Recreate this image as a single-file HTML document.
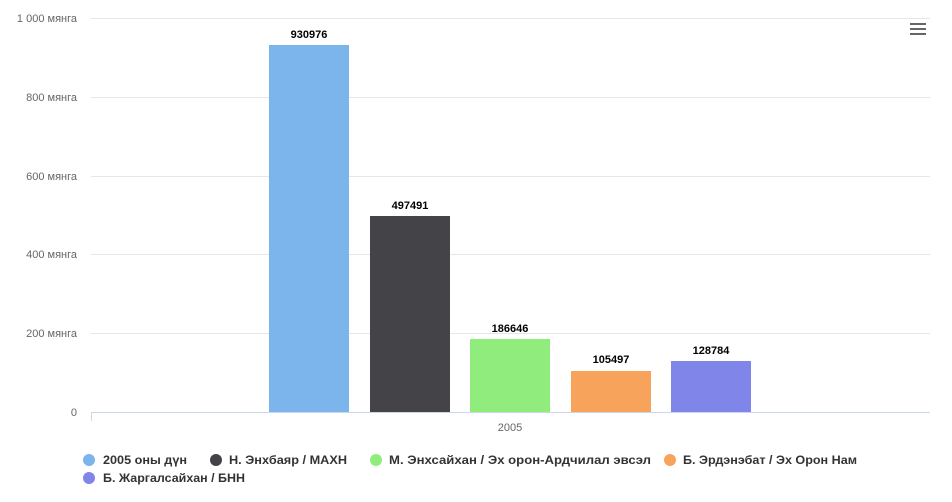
<!DOCTYPE html>
<html><head><meta charset="utf-8"><style>
html,body{margin:0;padding:0;background:#fff;width:952px;height:502px;overflow:hidden}
text{font-family:"Liberation Sans",sans-serif}
</style></head><body>
<svg width="952" height="502" xmlns="http://www.w3.org/2000/svg">
<g stroke="#e6e6e6" stroke-width="1">
<line x1="91" y1="18.5" x2="930" y2="18.5"/>
<line x1="91" y1="97.5" x2="930" y2="97.5"/>
<line x1="91" y1="176.5" x2="930" y2="176.5"/>
<line x1="91" y1="254.5" x2="930" y2="254.5"/>
<line x1="91" y1="333.5" x2="930" y2="333.5"/>
</g>
<g fill="#666" font-size="11" text-anchor="end">
<text x="77" y="22">1 000 мянга</text>
<text x="77" y="101">800 мянга</text>
<text x="77" y="180">600 мянга</text>
<text x="77" y="258">400 мянга</text>
<text x="77" y="337">200 мянга</text>
<text x="77" y="416">0</text>
</g>
<rect x="269" y="45" width="80" height="367" fill="#7cb5ec"/>
<rect x="370" y="216" width="80" height="196" fill="#434348"/>
<rect x="470" y="339" width="80" height="73" fill="#90ed7d"/>
<rect x="571" y="371" width="80" height="41" fill="#f7a35c"/>
<rect x="671" y="361" width="80" height="51" fill="#8085e9"/>
<g font-size="11" font-weight="bold" fill="#000" text-anchor="middle">
<text x="309" y="38">930976</text>
<text x="410" y="209">497491</text>
<text x="510" y="332">186646</text>
<text x="611" y="363">105497</text>
<text x="711" y="354">128784</text>
</g>
<line x1="91" y1="412.5" x2="930" y2="412.5" stroke="#ccd6eb"/>
<line x1="91.5" y1="412" x2="91.5" y2="421" stroke="#ccd6eb"/>
<text x="510" y="431" font-size="11" fill="#666" text-anchor="middle">2005</text>
<g fill="#666"><rect x="910" y="23" width="16" height="2"/><rect x="910" y="28" width="16" height="2"/><rect x="910" y="33" width="16" height="2"/></g>
<g font-size="12" font-weight="bold" fill="#333">
<circle cx="89" cy="460" r="6" fill="#7cb5ec"/><text x="103" y="464" textLength="84" lengthAdjust="spacingAndGlyphs">2005 оны дүн</text>
<circle cx="216" cy="460" r="6" fill="#434348"/><text x="229" y="464" textLength="118" lengthAdjust="spacingAndGlyphs">Н. Энхбаяр / МАХН</text>
<circle cx="376" cy="460" r="6" fill="#90ed7d"/><text x="389" y="464" textLength="262" lengthAdjust="spacingAndGlyphs">М. Энхсайхан / Эх орон-Ардчилал эвсэл</text>
<circle cx="670" cy="460" r="6" fill="#f7a35c"/><text x="683" y="464" textLength="174" lengthAdjust="spacingAndGlyphs">Б. Эрдэнэбат / Эх Орон Нам</text>
<circle cx="89" cy="478" r="6" fill="#8085e9"/><text x="103" y="482" textLength="142" lengthAdjust="spacingAndGlyphs">Б. Жаргалсайхан / БНН</text>
</g>
</svg>
</body></html>
